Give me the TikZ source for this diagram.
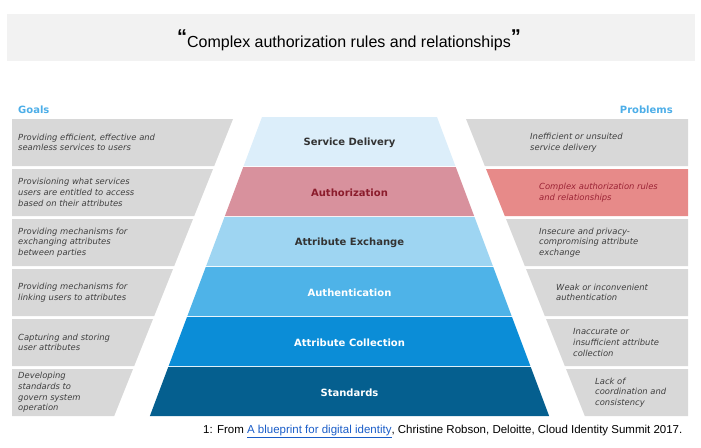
\documentclass[tikz,border=0pt]{standalone}
\usepackage{fontspec}
\setmainfont{Liberation Sans}
\newfontfamily\dvs{DejaVu Sans}
\definecolor{titlebg}{HTML}{F2F2F2}
\definecolor{headblue}{HTML}{4DAEE8}
\definecolor{boxgray}{HTML}{D8D8D8}
\definecolor{probred}{HTML}{E78A89}
\definecolor{probtext}{HTML}{9B2335}
\definecolor{goaltext}{HTML}{3F3F3F}
\definecolor{labdark}{HTML}{333333}
\definecolor{labred}{HTML}{8B1C2C}
\definecolor{bandA}{HTML}{DCEEFA}
\definecolor{bandB}{HTML}{D8919D}
\definecolor{bandC}{HTML}{9ED5F2}
\definecolor{bandD}{HTML}{4EB3E8}
\definecolor{bandE}{HTML}{0B8DD7}
\definecolor{bandF}{HTML}{055F8F}
\definecolor{linkblue}{HTML}{1A5DC8}
\tikzset{
  head/.style={font=\dvs\bfseries\fontsize{10}{12}\selectfont, text=headblue, inner sep=0pt},
  bandlabel/.style={font=\dvs\bfseries\fontsize{10}{12}\selectfont, inner sep=0pt},
  boxtext/.style={font=\dvs\itshape\fontsize{8.4}{10.7}\selectfont, text=goaltext, align=left, anchor=west, inner sep=0pt},
}
\begin{document}
\begin{tikzpicture}[x=1pt,y=-1pt]
\useasboundingbox (0,0) rectangle (701,447);
% title band
\fill[titlebg] (7,14) rectangle (695,61);
\node[font=\fontsize{16}{19}\selectfont, anchor=base, inner sep=0pt] (title) at (349,47)
  {\raisebox{4pt}{\fontsize{20}{20}\selectfont\bfseries “}Complex authorization rules and relationships\raisebox{4pt}{\fontsize{20}{20}\selectfont\bfseries ”}};
% headings
\node[head, anchor=base west] (goals) at (18,113) {Goals};
\node[head, anchor=base east] (problems) at (673,113) {Problems};
% pyramid
\foreach \i/\col/\txt/\tc/\nm in {0/bandA/Service Delivery/labdark/lA, 1/bandB/Authorization/labred/lB, 2/bandC/Attribute Exchange/labdark/lC, 3/bandD/Authentication/white/lD, 4/bandE/Attribute Collection/white/lE, 5/bandF/Standards/white/lF}{
  \pgfmathsetmacro\tp{117+50*\i}
  \pgfmathsetmacro\bt{166+50*\i}
  \fill[\col] ({262-0.375*(\tp-117)},\tp) -- ({437+0.375*(\tp-117)},\tp) -- ({437+0.375*(\bt-117)},\bt) -- ({262-0.375*(\bt-117)},\bt) -- cycle;
  \node[bandlabel, text=\tc] (\nm) at (349.5,{(\tp+\bt)/2+1.2}) {\txt};
}
% goal boxes and problem boxes
\foreach \i/\pc in {0/boxgray,1/probred,2/boxgray,3/boxgray,4/boxgray,5/boxgray}{
  \pgfmathsetmacro\tp{119+50*\i}
  \pgfmathsetmacro\bt{166+50*\i}
  \fill[boxgray] (12,\tp) -- ({233-0.40*(\tp-119)},\tp) -- ({233-0.40*(\bt-119)},\bt) -- (12,\bt) -- cycle;
  \fill[\pc] ({466+0.40*(\tp-119)},\tp) -- (688,\tp) -- (688,\bt) -- ({466+0.40*(\bt-119)},\bt) -- cycle;
}
% goal texts
\node[boxtext] (g1) at (18,142.5) {Providing efficient, effective and\\seamless services to users};
\node[boxtext] (g2) at (18,192.5) {Provisioning what services\\users are entitled to access\\based on their attributes};
\node[boxtext] (g3) at (18,242.5) {Providing mechanisms for\\exchanging attributes\\between parties};
\node[boxtext] (g4) at (18,292.5) {Providing mechanisms for\\linking users to attributes};
\node[boxtext] (g5) at (18,342.5) {Capturing and storing\\user attributes};
\node[boxtext] (g6) at (18,392.5) {Developing\\standards to\\govern system\\operation};
% problem texts
\node[boxtext] (p1) at (530,142.5) {Inefficient or unsuited\\service delivery};
\node[boxtext, text=probtext] (p2) at (539,192.5) {Complex authorization rules\\and relationships};
\node[boxtext] (p3) at (539,242.5) {Insecure and privacy-\\compromising attribute\\exchange};
\node[boxtext] (p4) at (556,292.5) {Weak or inconvenient\\authentication};
\node[boxtext] (p5) at (573,342.5) {Inaccurate or\\insufficient attribute\\collection};
\node[boxtext] (p6) at (595,392.5) {Lack of\\coordination and\\consistency};
% footer
\node[font=\fontsize{11.5}{13}\selectfont, anchor=base west, inner sep=0pt] (foot) at (203,433)
  {1: From {\color{linkblue}\underline{A blueprint for digital identity}}, Christine Robson, Deloitte, Cloud Identity Summit 2017.};
\end{tikzpicture}
\end{document}
